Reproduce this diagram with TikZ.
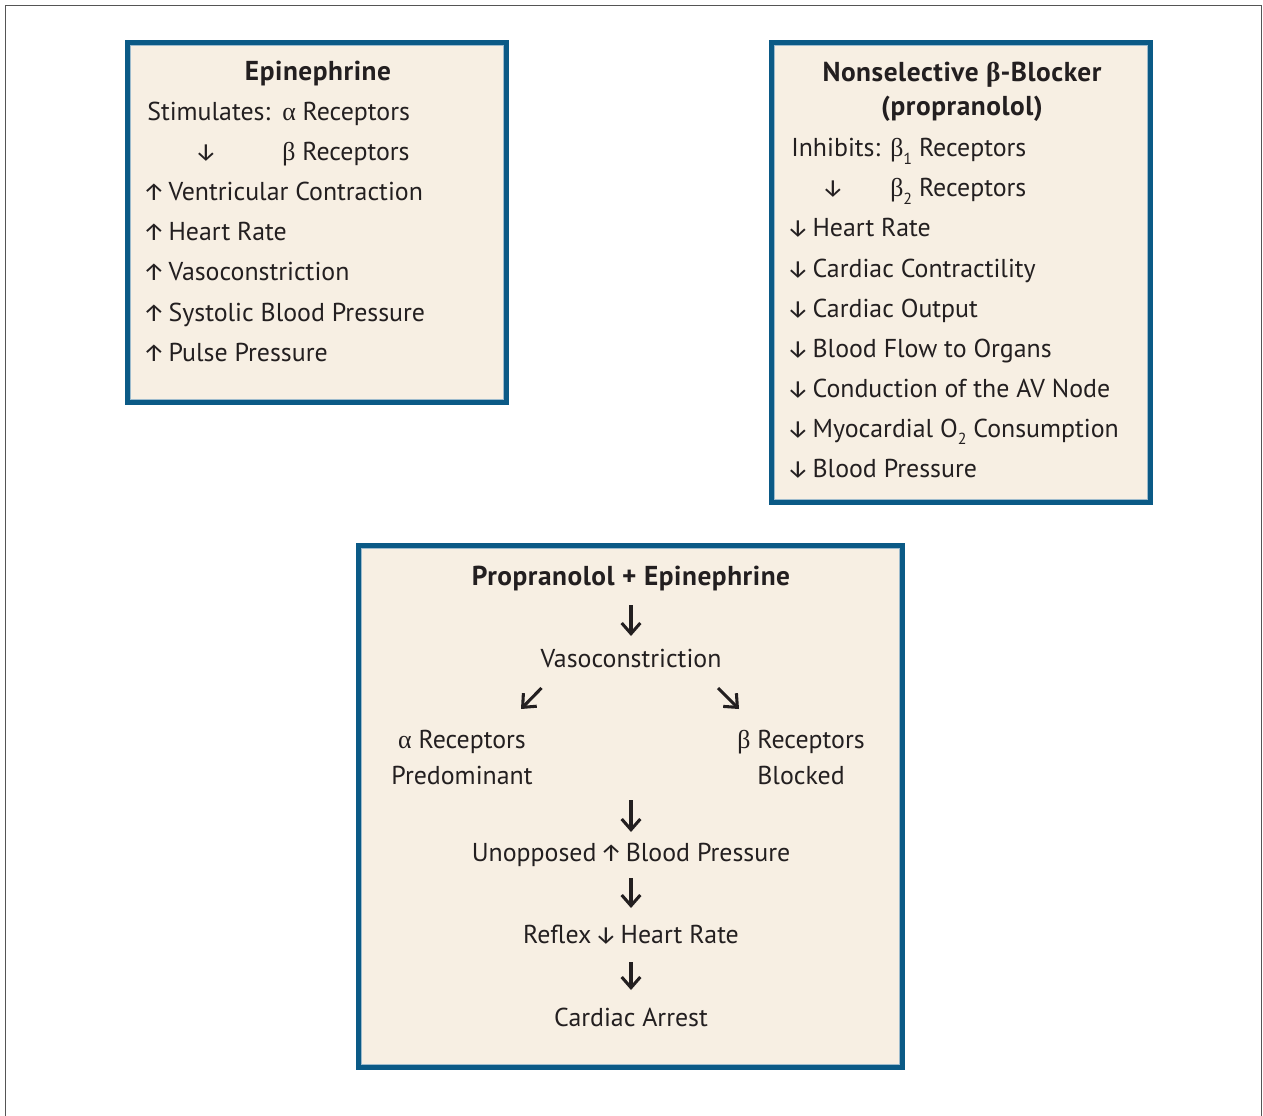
\documentclass[tikz,border=0pt]{standalone}
\usepackage{fontspec}
\setmainfont{PT Sans}
\newfontfamily\grk{Liberation Serif}
\newfontfamily\arrf{Fira Sans}
\usetikzlibrary{arrows.meta}
\definecolor{bordercol}{HTML}{0B5A86}
\definecolor{innercol}{HTML}{9DBBCD}
\definecolor{fillcol}{HTML}{F7EFE3}
\definecolor{txtcol}{HTML}{231F20}
\definecolor{framecol}{HTML}{555555}
\newcommand\uarr{\makebox[10pt]{\arrf\fontsize{18.5}{20}\selectfont ↑}}
\newcommand\darr{\makebox[10pt]{\arrf\fontsize{18.5}{20}\selectfont ↓}}
\newcommand\mysub[1]{\raisebox{-0.28em}{\fontsize{12}{12}\selectfont #1}}
\begin{document}
\begin{tikzpicture}[x=0.75pt,y=-0.75pt,
  txt/.style={anchor=base west, inner sep=0pt, text=txtcol, font=\fontsize{19.4}{23}\selectfont},
  ctxt/.style={anchor=base, inner sep=0pt, text=txtcol, font=\fontsize{19.4}{23}\selectfont},
  btxt/.style={anchor=base, inner sep=0pt, text=txtcol, font=\fontsize{20.5}{23}\selectfont\bfseries\addfontfeatures{LetterSpace=2}},
  boxstyle/.style={draw=bordercol, fill=fillcol, line width=3.75pt},
  innerline/.style={draw=innercol, line width=0.5pt},
  bigarrow/.style={draw=txtcol, line width=2.3pt, -{Straight Barb[length=8pt,width=14pt,line width=2.3pt]}},
]
\useasboundingbox (0,0) rectangle (1263,1116);
\fill[white] (0,0) rectangle (1263,1116);
\draw[framecol, line width=1.2pt] (5.5,1116) -- (5.5,5.5) -- (1261.5,5.5) -- (1261.5,1116);

% boxes
\path[boxstyle] (127.5,42.5) rectangle (506.5,402.5);
\path[innerline] (130.3,45.3) rectangle (503.7,399.7);
\path[boxstyle] (771.5,42.5) rectangle (1150.5,502.5);
\path[innerline] (774.3,45.3) rectangle (1147.7,499.7);
\path[boxstyle] (358.5,545.5) rectangle (902.5,1067.5);
\path[innerline] (361.3,548.3) rectangle (899.7,1064.7);

% box 1
\node[btxt] (epiT) at (318,81) {Epinephrine};
\node[txt] (stim) at (147,121) {Stimulates:};
\node[txt] (alphaR) at (282,121) {{\grk α} Receptors};
\node[ctxt] (stimArr) at (206,161) {\darr};
\node[txt] (betaR) at (282,161) {{\grk β} Receptors};
\node[txt] (e1) at (147,201) {\uarr\hspace{6pt}Ventricular Contraction};
\node[txt] (e2) at (147,241) {\uarr\hspace{6pt}Heart Rate};
\node[txt] (e3) at (147,281) {\uarr\hspace{6pt}Vasoconstriction};
\node[txt] (e4) at (147,321) {\uarr\hspace{6pt}Systolic Blood Pressure};
\node[txt] (e5) at (147,361) {\uarr\hspace{6pt}Pulse Pressure};

% box 2
\node[btxt] (nsb) at (962,82) {Nonselective {\grk\bfseries β}-Blocker};
\node[btxt] (prop) at (962,116) {(propranolol)};
\node[txt] (inh) at (791,157) {Inhibits:};
\node[txt] (b1R) at (890,157) {{\grk β}\mysub{1} Receptors};
\node[ctxt] (inhArr) at (833,197) {\darr};
\node[txt] (b2R) at (890,197) {{\grk β}\mysub{2} Receptors};
\node[txt] (p1) at (791,237) {\darr\hspace{6pt}Heart Rate};
\node[txt] (p2) at (791,277) {\darr\hspace{6pt}Cardiac Contractility};
\node[txt] (p3) at (791,317) {\darr\hspace{6pt}Cardiac Output};
\node[txt] (p4) at (791,357) {\darr\hspace{6pt}Blood Flow to Organs};
\node[txt] (p5) at (791,397) {\darr\hspace{6pt}Conduction of the AV Node};
\node[txt] (p6) at (791,437) {\darr\hspace{6pt}Myocardial O\mysub{2} Consumption};
\node[txt] (p7) at (791,477) {\darr\hspace{6pt}Blood Pressure};

% box 3
\node[btxt] (pe) at (631,585) {Propranolol + Epinephrine};
\node[ctxt] (vaso) at (631,667) {Vasoconstriction};
\node[ctxt] (alR) at (462,748) {{\grk α} Receptors};
\node[ctxt] (alP) at (462,784) {Predominant};
\node[ctxt] (beR) at (801,748) {{\grk β} Receptors};
\node[ctxt] (beB) at (801,784) {Blocked};
\node[ctxt] (unop) at (631,861) {Unopposed\hspace{6pt}\uarr\hspace{6pt}Blood Pressure};
\node[ctxt] (refl) at (631,943) {Reflex\hspace{6pt}\darr\hspace{6pt}Heart Rate};
\node[ctxt] (card) at (631,1026) {Cardiac Arrest};

\coordinate (a1s) at (631,605); \coordinate (a1e) at (631,636);
\coordinate (a2s) at (541.5,688); \coordinate (a2e) at (521,709);
\coordinate (a3s) at (718,688); \coordinate (a3e) at (739,709);
\coordinate (a4s) at (631,800); \coordinate (a4e) at (631,832);
\coordinate (a5s) at (631,878); \coordinate (a5e) at (631,908);
\coordinate (a6s) at (631,962); \coordinate (a6e) at (631,990);
\draw[bigarrow] (a1s) -- (a1e);
\draw[bigarrow] (a2s) -- (a2e);
\draw[bigarrow] (a3s) -- (a3e);
\draw[bigarrow] (a4s) -- (a4e);
\draw[bigarrow] (a5s) -- (a5e);
\draw[bigarrow] (a6s) -- (a6e);
\end{tikzpicture}
\end{document}
